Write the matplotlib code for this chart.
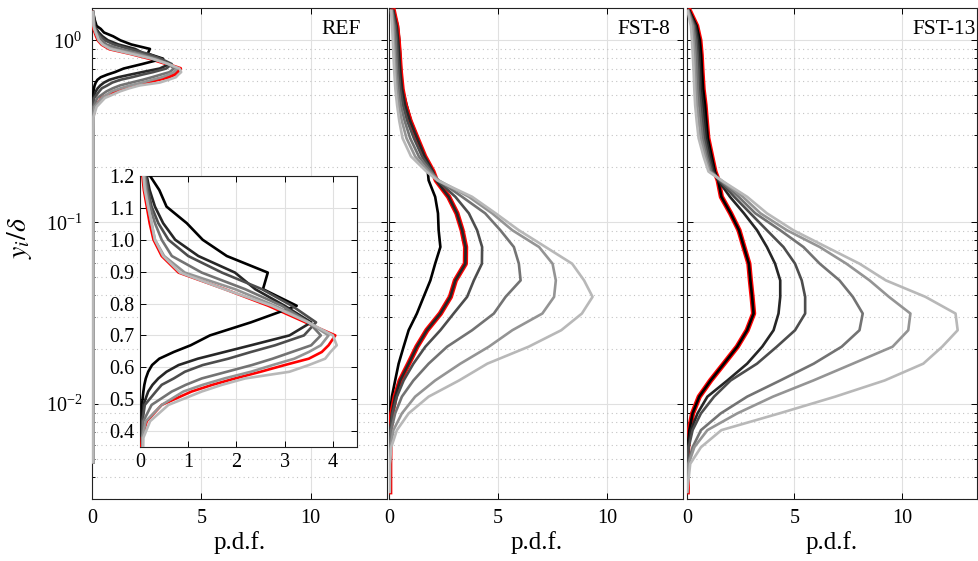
import numpy as np
import matplotlib
matplotlib.use('Agg')
import matplotlib.pyplot as plt
from matplotlib.ticker import LogLocator, NullFormatter, FormatStrFormatter

plt.rcParams['font.family'] = ['Liberation Serif', 'DejaVu Serif']
plt.rcParams['mathtext.fontset'] = 'stix'

# ---- data ----
gray_levels = [0.0, 0.15, 0.3, 0.45, 0.58, 0.72]

# REF case (inset range + long tail near zero)
y_ref = [1.43, 1.3, 1.2, 1.156, 1.104, 1.052, 1.0, 0.949, 0.897, 0.845, 0.793, 0.741, 0.70, 0.669,
         0.648, 0.627, 0.607, 0.586, 0.565, 0.545, 0.524, 0.482, 0.431, 0.379, 0.3, 0.1, 0.01, 0.0048]
ref_c0 = [0.05, 0.12, 0.21, 0.40, 0.55, 0.97, 1.30, 1.80, 2.65, 2.55, 3.25, 2.30, 1.45, 1.05,
          0.70, 0.40, 0.25, 0.17, 0.12, 0.09, 0.07, 0.04, 0.04, 0.05, 0.05, 0.05, 0.05, 0.05]
ref_c1 = [0.05, 0.10, 0.14, 0.20, 0.31, 0.48, 0.73, 1.21, 1.97, 2.39, 3.00, 3.55, 3.10, 2.30,
          1.75, 1.20, 0.80, 0.55, 0.38, 0.26, 0.17, 0.07, 0.05, 0.05, 0.05, 0.05, 0.05, 0.05]
ref_c2 = [0.05, 0.09, 0.12, 0.17, 0.24, 0.38, 0.59, 1.00, 1.70, 2.53, 3.15, 3.65, 3.40, 2.80,
          2.30, 1.83, 1.30, 0.93, 0.70, 0.45, 0.33, 0.10, 0.05, 0.05, 0.05, 0.05, 0.05, 0.05]
ref_c3 = [0.05, 0.08, 0.10, 0.14, 0.21, 0.31, 0.45, 0.66, 1.28, 2.18, 2.94, 3.50, 3.75, 3.55,
          3.15, 2.75, 2.32, 1.80, 1.28, 0.95, 0.66, 0.24, 0.07, 0.05, 0.05, 0.05, 0.05, 0.05]
ref_c4 = [0.05, 0.07, 0.09, 0.12, 0.17, 0.24, 0.31, 0.50, 0.93, 1.97, 2.80, 3.49, 3.91, 3.75,
          3.50, 3.20, 2.75, 2.30, 1.75, 1.30, 0.90, 0.45, 0.12, 0.05, 0.05, 0.05, 0.05, 0.05]
ref_c5 = [0.05, 0.06, 0.07, 0.10, 0.17, 0.24, 0.31, 0.48, 0.83, 1.75, 2.73, 3.49, 4.00, 4.08,
          3.95, 3.84, 3.50, 3.10, 2.18, 1.70, 1.28, 0.59, 0.21, 0.07, 0.06, 0.06, 0.06, 0.06]
ref_red = [0.02, 0.04, 0.05, 0.08, 0.14, 0.20, 0.28, 0.45, 0.80, 1.76, 2.66, 3.43, 4.05, 3.91,
           3.77, 3.50, 3.00, 2.50, 1.97, 1.50, 1.07, 0.45, 0.14, 0.04, 0.0, 0.0, 0.0, 0.0]

# FST cases share one y grid
y_fst = [1.45, 1.2, 1.0, 0.83, 0.67, 0.54, 0.44, 0.36, 0.29, 0.23, 0.19, 0.17, 0.138, 0.112, 0.0904,
         0.0731, 0.0592, 0.0479, 0.0389, 0.0315, 0.0255, 0.0207, 0.0167, 0.0135, 0.011, 0.0089,
         0.0072, 0.0058, 0.0047, 0.0033]

fst8_c0 = [0.20, 0.38, 0.45, 0.49, 0.53, 0.60, 0.79, 0.99, 1.30, 1.60, 1.76, 1.80, 2.10, 2.23, 2.26,
           2.34, 2.10, 1.88, 1.57, 1.26, 0.88, 0.65, 0.42, 0.26, 0.11, 0.03, 0.02, 0.01, 0.01, 0.01]
fst8_c1 = [0.18, 0.33, 0.40, 0.45, 0.50, 0.58, 0.72, 0.95, 1.27, 1.62, 2.00, 2.15, 2.72, 3.10, 3.34,
           3.50, 3.49, 3.03, 2.80, 2.34, 1.72, 1.26, 0.88, 0.49, 0.26, 0.11, 0.03, 0.02, 0.01, 0.01]
fst8_c2 = [0.15, 0.28, 0.34, 0.38, 0.43, 0.50, 0.62, 0.82, 1.12, 1.50, 1.95, 2.20, 3.03, 3.65, 4.03,
           4.26, 4.25, 3.88, 3.57, 2.95, 2.34, 1.65, 1.10, 0.65, 0.34, 0.14, 0.05, 0.02, 0.01, 0.01]
fst8_c3 = [0.12, 0.22, 0.28, 0.31, 0.35, 0.42, 0.52, 0.70, 0.95, 1.35, 1.90, 2.25, 3.34, 4.40, 5.10,
           5.72, 5.95, 6.03, 5.34, 4.80, 3.80, 2.65, 1.80, 1.10, 0.57, 0.26, 0.08, 0.03, 0.01, 0.01]
fst8_c4 = [0.10, 0.17, 0.20, 0.24, 0.28, 0.34, 0.43, 0.57, 0.78, 1.18, 1.80, 2.25, 3.65, 4.72, 5.65,
           6.88, 7.50, 7.65, 7.57, 7.03, 5.65, 4.57, 3.26, 2.10, 1.18, 0.57, 0.18, 0.05, 0.01, 0.01]
fst8_c5 = [0.07, 0.12, 0.15, 0.18, 0.22, 0.27, 0.35, 0.45, 0.60, 0.99, 1.70, 2.20, 3.80, 4.88, 5.95,
           7.18, 8.40, 8.95, 9.34, 8.85, 7.90, 6.40, 4.50, 3.20, 1.80, 0.88, 0.34, 0.08, 0.02, 0.01]

fst13_c0 = [0.12, 0.45, 0.60, 0.66, 0.70, 0.75, 0.84, 0.90, 0.97, 1.15, 1.30, 1.45, 1.60, 2.03, 2.42,
            2.65, 2.88, 2.95, 3.03, 3.10, 2.80, 2.34, 1.72, 1.10, 0.57, 0.26, 0.11, 0.03, 0.02, 0.01]
fst13_c1 = [0.10, 0.40, 0.52, 0.58, 0.62, 0.66, 0.75, 0.82, 0.90, 1.08, 1.25, 1.45, 2.00, 2.65, 3.26,
            3.72, 4.10, 4.34, 4.34, 4.26, 4.03, 3.50, 2.80, 1.88, 0.95, 0.49, 0.18, 0.05, 0.02, 0.01]
fst13_c2 = [0.08, 0.35, 0.45, 0.50, 0.55, 0.58, 0.66, 0.73, 0.82, 1.00, 1.18, 1.50, 2.20, 2.95, 3.72,
            4.49, 5.03, 5.34, 5.50, 5.50, 5.03, 4.18, 3.26, 2.03, 1.26, 0.65, 0.26, 0.08, 0.03, 0.01]
fst13_c3 = [0.07, 0.30, 0.38, 0.43, 0.47, 0.50, 0.57, 0.64, 0.73, 0.92, 1.12, 1.55, 2.40, 3.18, 4.34,
            5.42, 6.18, 7.10, 7.72, 8.18, 8.03, 7.20, 5.90, 4.34, 2.80, 1.57, 0.65, 0.26, 0.05, 0.01]
fst13_c4 = [0.05, 0.25, 0.30, 0.35, 0.38, 0.42, 0.47, 0.55, 0.64, 0.85, 1.05, 1.60, 2.60, 3.42, 4.65,
            6.18, 7.42, 8.50, 9.40, 10.40, 10.30, 9.57, 7.72, 5.88, 4.00, 2.34, 0.95, 0.34, 0.08, 0.01]
fst13_c5 = [0.03, 0.18, 0.23, 0.27, 0.31, 0.34, 0.38, 0.45, 0.54, 0.77, 1.00, 1.60, 2.80, 3.72, 4.95,
            6.49, 8.03, 9.26, 11.10, 12.50, 12.60, 11.88, 11.00, 9.20, 6.90, 4.30, 1.60, 0.65, 0.15, 0.01]

ref_curves = [ref_c0, ref_c1, ref_c2, ref_c3, ref_c4, ref_c5]
fst8_curves = [fst8_c0, fst8_c1, fst8_c2, fst8_c3, fst8_c4, fst8_c5]
fst13_curves = [fst13_c0, fst13_c1, fst13_c2, fst13_c3, fst13_c4, fst13_c5]
panel_names = ['REF', 'FST-8', 'FST-13']

LW = 1.9

# ---- figure ----
W, H = 979, 561
fig = plt.figure(figsize=(W / 100, H / 100), dpi=100)

def box(x0, y0, x1, y1):
    return [x0 / W, 1 - y1 / H, (x1 - x0) / W, (y1 - y0) / H]

def style(ax, labels=True):
    ax.set_yscale('log')
    ax.set_ylim(0.003, 1.5)
    ax.set_xlim(0, 13.5)
    ax.set_xticks([0, 5, 10])
    ax.yaxis.set_minor_locator(LogLocator(base=10, subs=range(2, 10)))
    ax.yaxis.set_minor_formatter(NullFormatter())
    ax.grid(True, which='major', color='#e0e0e0', lw=0.8, ls='-')
    ax.grid(True, which='minor', axis='y', color='#c4c4c4', lw=0.8, ls=(0, (1, 3)))
    ax.set_axisbelow(True)
    ax.tick_params(which='both', direction='in', top=True, right=True, labelsize=14.5, width=0.7)
    ax.tick_params(which='major', length=4, pad=7)
    ax.tick_params(which='minor', length=2)
    if not labels:
        ax.tick_params(labelleft=False)
    for s in ax.spines.values():
        s.set_linewidth(0.8)
        s.set_color('#222222')
    ax.set_xlabel('p.d.f.', fontsize=18, labelpad=2)

ax1 = fig.add_axes(box(92, 8.3, 387, 499.3))
ax2 = fig.add_axes(box(389.5, 8.3, 683, 499.3))
ax3 = fig.add_axes(box(687, 8.3, 977, 499.3))

# REF panel
style(ax1)
ax1.plot(ref_red, y_ref, color='red', lw=2.4, zorder=3)
for i, c in enumerate(ref_curves):
    ax1.plot(c, y_ref, color=str(gray_levels[i]), lw=LW, zorder=3)

# FST panels: red line sits under one of the gray curves
for ax, curves, red_idx in [(ax2, fst8_curves, 1), (ax3, fst13_curves, 0)]:
    style(ax, labels=False)
    for i, c in enumerate(curves):
        if i == red_idx:
            ax.plot(c, y_fst, color='red', lw=3.8, zorder=3)
        ax.plot(c, y_fst, color=str(gray_levels[i]), lw=LW, zorder=3)

for ax, name in zip([ax1, ax2, ax3], panel_names):
    ax.text(10.5, 1.15, name, fontsize=15.5, ha='left', va='center')

fig.text(19 / W, 1 - 238 / H, r'$y_i/\delta$', rotation=90, fontsize=20, ha='center', va='center')

# inset (linear y)
axin = fig.add_axes(box(140, 176, 357, 447))
axin.set_facecolor('white')
axin.plot(ref_red, y_ref, color='red', lw=LW, zorder=3)
for i, c in enumerate(ref_curves):
    axin.plot(c, y_ref, color=str(gray_levels[i]), lw=LW, zorder=3)
axin.set_xlim(0, 4.5)
axin.set_ylim(0.35, 1.2)
axin.set_xticks([0, 1, 2, 3, 4])
axin.set_yticks(np.arange(0.4, 1.21, 0.1))
axin.yaxis.set_major_formatter(FormatStrFormatter('%.1f'))
axin.grid(True, color='#e0e0e0', lw=0.8)
axin.set_axisbelow(True)
axin.tick_params(direction='in', top=True, right=True, labelsize=14.5, length=4, pad=4, width=0.7)
for s in axin.spines.values():
    s.set_linewidth(0.8)
    s.set_color('#222222')

fig.savefig('out.png', dpi=100)
